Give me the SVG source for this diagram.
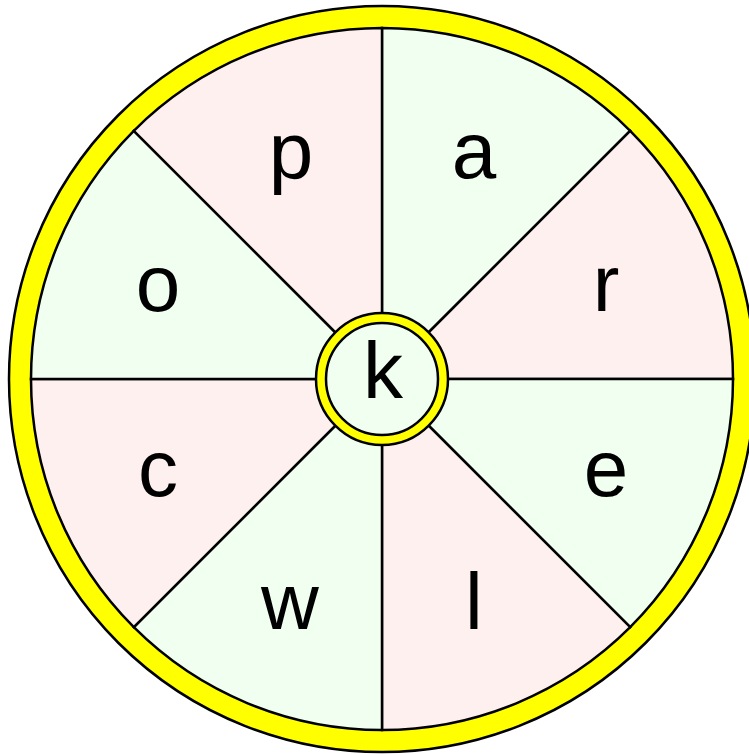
<svg xmlns="http://www.w3.org/2000/svg" width="749" height="754" viewBox="0 0 749 754">
<style>
.ring{fill:#FFFF00;stroke:#000;stroke-width:2.5}
.g{fill:#F0FFF0;stroke:#000;stroke-width:2.5}
.p{fill:#FFF0F0;stroke:#000;stroke-width:2.5}
.lbl{font-family:"Liberation Sans",Arial,sans-serif;font-size:80px;fill:#000;text-anchor:middle}
</style>
<rect width="749" height="754" fill="#fff"/>
<g id="outer-ring"><circle class="ring" cx="382" cy="379" r="373"/></g>
<g id="sectors">
<g id="sector-a"><path class="g" d="M382,379 L382,28 A351,351 0 0 1 630.2,130.8 Z"/><text class="lbl" x="474" y="178">a</text></g>
<g id="sector-r"><path class="p" d="M382,379 L630.2,130.8 A351,351 0 0 1 733,379 Z"/><text class="lbl" x="606" y="311">r</text></g>
<g id="sector-e"><path class="g" d="M382,379 L733,379 A351,351 0 0 1 630.2,627.2 Z"/><text class="lbl" x="606" y="496">e</text></g>
<g id="sector-l"><path class="p" d="M382,379 L630.2,627.2 A351,351 0 0 1 382,730 Z"/><text class="lbl" x="474" y="629">l</text></g>
<g id="sector-w"><path class="g" d="M382,379 L382,730 A351,351 0 0 1 133.8,627.2 Z"/><text class="lbl" x="290" y="629">w</text></g>
<g id="sector-c"><path class="p" d="M382,379 L133.8,627.2 A351,351 0 0 1 31,379 Z"/><text class="lbl" x="158" y="496">c</text></g>
<g id="sector-o"><path class="g" d="M382,379 L31,379 A351,351 0 0 1 133.8,130.8 Z"/><text class="lbl" x="158" y="311">o</text></g>
<g id="sector-p"><path class="p" d="M382,379 L133.8,130.8 A351,351 0 0 1 382,28 Z"/><text class="lbl" x="291" y="178">p</text></g>
</g>
<g id="center">
<circle class="ring" cx="382" cy="379" r="66"/>
<circle class="g" cx="382" cy="379" r="56"/>
<text class="lbl" x="383" y="398">k</text>
</g>
</svg>
